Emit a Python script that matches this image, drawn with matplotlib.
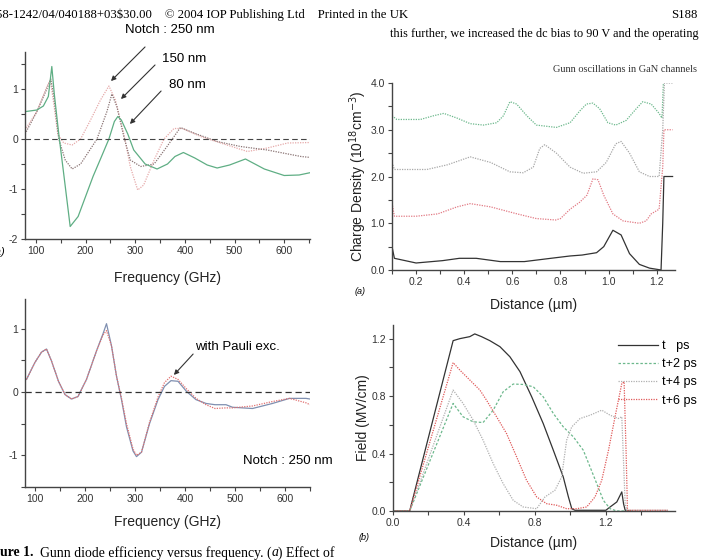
import matplotlib
matplotlib.use("Agg")
import matplotlib.pyplot as plt
from matplotlib.ticker import MultipleLocator

W, H = 702, 560
SANS = "Liberation Sans"
SERIF = "Liberation Serif"

# ---- (a) top-left: efficiency vs frequency for three notch widths
f80 = [80, 102, 115, 125, 132, 137, 146, 156, 169, 185, 200, 215, 230, 247, 258, 265,
       272, 285, 297, 320, 344, 365, 380, 397, 420, 445, 465, 490, 522, 560, 600, 630, 654]
e80 = [0.55, 0.58, 0.66, 0.85, 1.45, 0.9, 0.1, -0.7, -1.75, -1.55, -1.15, -0.75, -0.4, 0.0, 0.35, 0.45,
       0.38, 0.1, -0.22, -0.5, -0.6, -0.5, -0.35, -0.27, -0.38, -0.52, -0.58, -0.52, -0.4, -0.6, -0.73, -0.72, -0.67]
f150 = [78, 102, 122, 130, 136, 146, 159, 173, 190, 223, 243, 253, 263, 277, 290, 311, 338,
        364, 391, 418, 465, 512, 566, 634, 654]
e150 = [0.1, 0.55, 1.0, 1.2, 0.85, 0.0, -0.42, -0.6, -0.5, 0.0, 0.55, 0.9, 0.65, 0.05, -0.42, -0.55, -0.5,
        -0.15, 0.23, 0.12, -0.05, -0.15, -0.22, -0.35, -0.37]
f250 = [78, 102, 122, 129, 136, 144, 156, 173, 190, 210, 230, 247, 260, 277, 290, 305, 317,
        338, 358, 378, 395, 432, 472, 526, 566, 607, 654]
e250 = [0.18, 0.55, 1.05, 1.18, 0.7, 0.1, -0.08, -0.12, 0.0, 0.38, 0.78, 1.06, 0.78, 0.1, -0.55, -1.02, -0.92,
        -0.42, 0.0, 0.21, 0.21, 0.05, -0.08, -0.25, -0.18, -0.08, -0.07]

# ---- (b) bottom-left: with / without Pauli exclusion
fb = [83, 100, 113, 123, 133, 147, 160, 173, 186, 203, 223, 236, 243, 253, 263, 273, 283, 296, 303,
      313, 329, 346, 359, 372, 386, 403, 422, 442, 460, 482, 495, 535, 575, 609, 642, 650]
e_nopauli = [0.2, 0.47, 0.63, 0.68, 0.49, 0.17, -0.04, -0.11, -0.07, 0.2, 0.65, 0.92, 1.08, 0.73, 0.25, -0.12,
             -0.55, -0.93, -1.02, -0.95, -0.5, -0.12, 0.09, 0.18, 0.17, 0.01, -0.12, -0.18, -0.2, -0.2, -0.24,
             -0.26, -0.18, -0.1, -0.1, -0.11]
e_pauli = [0.2, 0.47, 0.63, 0.68, 0.49, 0.17, -0.04, -0.11, -0.07, 0.2, 0.65, 0.9, 0.97, 0.73, 0.25, -0.1,
           -0.5, -0.9, -1.0, -0.95, -0.48, -0.08, 0.15, 0.25, 0.2, 0.05, -0.1, -0.2, -0.26, -0.25, -0.25,
           -0.22, -0.15, -0.1, -0.17, -0.2]

# ---- right top: charge density snapshots (offset by 1 each)
d0 = [0.1, 0.11, 0.2, 0.31, 0.38, 0.45, 0.55, 0.65, 0.76, 0.84, 0.89, 0.95, 0.98, 1.018, 1.052,
      1.087, 1.128, 1.17, 1.218, 1.225, 1.23, 1.266]
n0 = [0.5, 0.25, 0.15, 0.2, 0.25, 0.25, 0.18, 0.18, 0.25, 0.3, 0.32, 0.37, 0.5, 0.85, 0.75,
      0.35, 0.12, 0.04, 0.0, 1.0, 2.0, 2.0]
d1 = [0.1, 0.11, 0.2, 0.29, 0.37, 0.425, 0.51, 0.62, 0.7, 0.78, 0.8, 0.84, 0.88, 0.91, 0.935,
      0.956, 0.98, 1.018, 1.06, 1.128, 1.156, 1.177, 1.21, 1.225, 1.23, 1.266]
n1 = [1.43, 1.15, 1.15, 1.2, 1.35, 1.42, 1.35, 1.2, 1.1, 1.07, 1.1, 1.3, 1.45, 1.6, 1.95,
      1.93, 1.6, 1.2, 1.05, 1.0, 1.05, 1.2, 1.3, 2.2, 3.0, 3.0]
d2 = [0.1, 0.11, 0.245, 0.33, 0.425, 0.51, 0.59, 0.645, 0.687, 0.714, 0.735, 0.783, 0.84, 0.894,
      0.95, 0.99, 1.03, 1.052, 1.087, 1.128, 1.17, 1.21, 1.225, 1.232, 1.266]
n2 = [2.3, 2.15, 2.15, 2.25, 2.42, 2.3, 2.1, 2.08, 2.2, 2.6, 2.68, 2.5, 2.2, 2.07,
      2.1, 2.3, 2.7, 2.75, 2.5, 2.1, 2.0, 2.0, 3.0, 4.0, 4.0]
d3 = [0.1, 0.12, 0.218, 0.273, 0.315, 0.37, 0.425, 0.48, 0.535, 0.563, 0.59, 0.618, 0.66, 0.7,
      0.783, 0.84, 0.88, 0.908, 0.935, 0.963, 0.997, 1.03, 1.073, 1.115, 1.142, 1.177, 1.21,
      1.222, 1.228]
n3 = [3.3, 3.22, 3.22, 3.3, 3.35, 3.25, 3.13, 3.1, 3.15, 3.3, 3.6, 3.55, 3.3, 3.1,
      3.05, 3.15, 3.4, 3.55, 3.57, 3.45, 3.15, 3.1, 3.2, 3.45, 3.6, 3.55, 3.35,
      3.25, 4.05]

# ---- right bottom: field profiles
x_t = [0.0, 0.094, 0.339, 0.377, 0.433, 0.461, 0.499, 0.546, 0.603, 0.659, 0.716, 0.782, 0.847,
       0.904, 0.96, 0.989, 1.008, 1.026, 1.2, 1.224, 1.262, 1.29, 1.3, 1.309, 1.35]
fld_t = [0.0, 0.0, 1.186, 1.2, 1.214, 1.233, 1.214, 1.186, 1.144, 1.074, 0.97, 0.795, 0.609,
         0.423, 0.237, 0.098, 0.016, 0.005, 0.005, 0.028, 0.063, 0.133, 0.05, 0.005, 0.0]
x_t2 = [0.0, 0.094, 0.339, 0.395, 0.452, 0.508, 0.565, 0.621, 0.678, 0.734, 0.791, 0.847, 0.904,
        0.96, 1.017, 1.073, 1.111, 1.149, 1.186, 1.224, 1.262, 1.4]
fld_t2 = [0.0, 0.0, 0.749, 0.656, 0.621, 0.616, 0.702, 0.83, 0.884, 0.881, 0.865, 0.795, 0.679,
          0.586, 0.516, 0.423, 0.307, 0.19, 0.074, 0.016, 0.0, 0.0]
x_t4 = [0.0, 0.094, 0.339, 0.395, 0.452, 0.508, 0.565, 0.621, 0.678, 0.734, 0.81, 0.857, 0.885,
        0.913, 0.951, 0.979, 1.008, 1.055, 1.111, 1.177, 1.224, 1.271, 1.29, 1.309, 1.318, 1.55]
fld_t4 = [0.0, 0.0, 0.842, 0.749, 0.633, 0.493, 0.33, 0.191, 0.074, 0.028, 0.016, 0.098, 0.121,
          0.144, 0.237, 0.493, 0.586, 0.644, 0.667, 0.702, 0.667, 0.644, 0.656, 0.05, 0.005, 0.005]
x_t6 = [0.0, 0.094, 0.339, 0.377, 0.433, 0.49, 0.527, 0.584, 0.64, 0.697, 0.753, 0.81, 0.866,
        0.923, 0.979, 1.036, 1.092, 1.139, 1.177, 1.215, 1.252, 1.29, 1.303, 1.315, 1.322, 1.55]
fld_t6 = [0.0, 0.0, 1.033, 0.981, 0.912, 0.842, 0.772, 0.656, 0.54, 0.377, 0.214, 0.098, 0.051,
          0.04, 0.016, 0.016, 0.028, 0.098, 0.214, 0.423, 0.656, 0.888, 0.9, 0.377, 0.005, 0.005]

plt.rcParams['font.family'] = SANS

fig = plt.figure(figsize=(W / 100, H / 100), dpi=100)


def px_axes(l, t, r, b):
    return fig.add_axes([l / W, 1 - b / H, (r - l) / W, (b - t) / H])


def style(ax, xmaj, xmin, ymaj, ymin):
    for s in ("top", "right"):
        ax.spines[s].set_visible(False)
    for s in ("left", "bottom"):
        ax.spines[s].set_color("#444444")
        ax.spines[s].set_linewidth(1.0)
    ax.xaxis.set_major_locator(MultipleLocator(xmaj))
    ax.xaxis.set_minor_locator(MultipleLocator(xmin))
    ax.yaxis.set_major_locator(MultipleLocator(ymaj))
    ax.yaxis.set_minor_locator(MultipleLocator(ymin))
    ax.tick_params(which="both", direction="out", length=3, width=0.8, color="#444444",
                   labelsize=7.5, labelcolor="#333333", pad=2)
    ax.patch.set_alpha(0)


def fpx(x, y):
    return (x, H - y)


# top-left
ax1 = px_axes(25, 52, 310, 239)
ax1.plot(f250, e250, color="#e6aaaa", lw=0.9, ls=(0, (1, 1)))
ax1.plot(f150, e150, color="#8a7474", lw=0.9, ls=(0, (1, 1)))
ax1.plot(f80, e80, color="#5fae84", lw=0.9)
ax1.axhline(0, color="#444444", lw=0.8, ls=(0, (5, 3)))
ax1.set_xlim(78, 652)
ax1.set_ylim(-2, 1.74)
style(ax1, 100, 50, 1, 0.5)
ax1.yaxis.set_major_formatter(matplotlib.ticker.FuncFormatter(lambda v, p: f"{v:.0f}"))
ax1.set_xlabel("Frequency (GHz)", fontsize=10, color="#222222", labelpad=11)

arrow = dict(arrowstyle="-|>", color="#333333", lw=0.8, mutation_scale=7)
fig.text(170, H - 30, "Notch : 250 nm", transform=None, fontsize=9.5, ha="center", va="center")
fig.text(184, H - 59, "150 nm", transform=None, fontsize=9.5, ha="center", va="center")
fig.text(187, H - 85, "80 nm", transform=None, fontsize=9.5, ha="center", va="center")
ax1.annotate("", xy=fpx(109, 83), xytext=fpx(147, 45), xycoords="figure pixels",
             textcoords="figure pixels", arrowprops=arrow)
ax1.annotate("", xy=fpx(119, 101), xytext=fpx(157, 63), xycoords="figure pixels",
             textcoords="figure pixels", arrowprops=arrow)
ax1.annotate("", xy=fpx(128, 126), xytext=fpx(163, 89), xycoords="figure pixels",
             textcoords="figure pixels", arrowprops=arrow)
fig.text(-9, H - 252, "(a)", transform=None, fontsize=8, style="italic", va="center")

# bottom-left
ax2 = px_axes(25, 299, 310, 487)
ax2.plot(fb, e_nopauli, color="#7f8fb0", lw=0.9)
ax2.plot(fb, e_pauli, color="#e07070", lw=0.9, ls=(0, (1, 1)))
ax2.axhline(0, color="#333333", lw=0.9, ls=(0, (5, 3)))
ax2.set_xlim(80, 650)
ax2.set_ylim(-1.5, 1.47)
style(ax2, 100, 50, 1, 0.5)
ax2.yaxis.set_major_formatter(matplotlib.ticker.FuncFormatter(lambda v, p: f"{v:.0f}"))
ax2.set_xlabel("Frequency (GHz)", fontsize=10, color="#222222", labelpad=8)
fig.text(237, H - 347, "with Pauli exc.", transform=None, fontsize=9.5, ha="center", va="center")
ax2.annotate("", xy=fpx(172, 377), xytext=fpx(195, 352), xycoords="figure pixels",
             textcoords="figure pixels", arrowprops=arrow)
fig.text(288, H - 461, "Notch : 250 nm", transform=None, fontsize=9.5, ha="center", va="center")

# top-right
ax3 = px_axes(392, 83, 675, 270)
ax3.plot(d3, n3, color="#6cb88c", lw=0.9, ls=(0, (1, 1)), clip_on=True)
ax3.plot(d2, n2, color="#a8a8a8", lw=0.9, ls=(0, (1, 1)))
ax3.plot(d1, n1, color="#e27a84", lw=0.9, ls=(0, (1, 1)))
ax3.plot(d0, n0, color="#333333", lw=0.9)
ax3.set_xlim(0.1, 1.276)
ax3.set_ylim(0, 4)
style(ax3, 0.2, 0.1, 1.0, 0.5)
ax3.xaxis.set_major_formatter(matplotlib.ticker.FormatStrFormatter("%.1f"))
ax3.yaxis.set_major_formatter(matplotlib.ticker.FormatStrFormatter("%.1f"))
ax3.set_ylabel("Charge Density (10$^{18}$cm$^{-3}$)", fontsize=10, color="#222222", labelpad=1)
ax3.set_xlabel("Distance (\u00b5m)", fontsize=10, color="#222222", labelpad=8)
fig.text(697, H - 70, "Gunn oscillations in GaN channels", transform=None, family=SERIF,
         fontsize=7.5, ha="right", va="center", color="#333333")
fig.text(355, H - 292, "(a)", transform=None, fontsize=6.5, style="italic", va="center")

# bottom-right
ax4 = px_axes(393, 325, 675, 511)
ax4.plot(x_t, fld_t, color="#333333", lw=0.9, label="t   ps")
ax4.plot(x_t2, fld_t2, color="#6cb88c", lw=0.9, ls=(0, (2, 1.5)), label="t+2 ps")
ax4.plot(x_t4, fld_t4, color="#b0b0b0", lw=0.9, ls=(0, (1, 1)), label="t+4 ps")
ax4.plot(x_t6, fld_t6, color="#e05a5a", lw=0.9, ls=(0, (1, 1)), label="t+6 ps")
ax4.set_xlim(0, 1.59)
ax4.set_ylim(0, 1.295)
style(ax4, 0.4, 0.2, 0.4, 0.2)
ax4.xaxis.set_major_formatter(matplotlib.ticker.FormatStrFormatter("%.1f"))
ax4.yaxis.set_major_formatter(matplotlib.ticker.FormatStrFormatter("%.1f"))
ax4.set_ylabel("Field (MV/cm)", fontsize=10, color="#222222", labelpad=1)
ax4.set_xlabel("Distance (\u00b5m)", fontsize=10, color="#222222", labelpad=6)
ax4.legend(loc="upper right", bbox_to_anchor=(702 / W, 1 - 335 / H), bbox_transform=fig.transFigure,
           frameon=False, fontsize=9, handlelength=3.2, handletextpad=0.3, labelspacing=0.5,
           borderaxespad=0)
fig.text(359, H - 537, "(b)", transform=None, fontsize=6.5, style="italic", va="center")

# page text
fig.text(-4, H - 15, "58-1242/04/040188+03$30.00    \u00a9 2004 IOP Publishing Ltd    Printed in the UK",
         transform=None, family=SERIF, fontsize=9.2, va="center")
fig.text(698, H - 15, "S188", transform=None, family=SERIF, fontsize=9.2, ha="right", va="center")
fig.text(390, H - 34, "this further, we increased the dc bias to 90 V and the operating",
         transform=None, family=SERIF, fontsize=8.8, va="center")

# caption, laid out piece by piece
renderer = fig.canvas.get_renderer()
cx = 0
for piece, kw in [("ure 1. ", dict(weight="bold")),
                  ("Gunn diode efficiency versus frequency. (", {}),
                  ("a", dict(style="italic")),
                  (") Effect of", {})]:
    txt = fig.text(cx, H - 553, piece, transform=None, family=SERIF, fontsize=9.9, va="center", **kw)
    cx = txt.get_window_extent(renderer).x1 + (3 if piece.endswith(" ") else 0)

fig.savefig("out.png", dpi=100)
